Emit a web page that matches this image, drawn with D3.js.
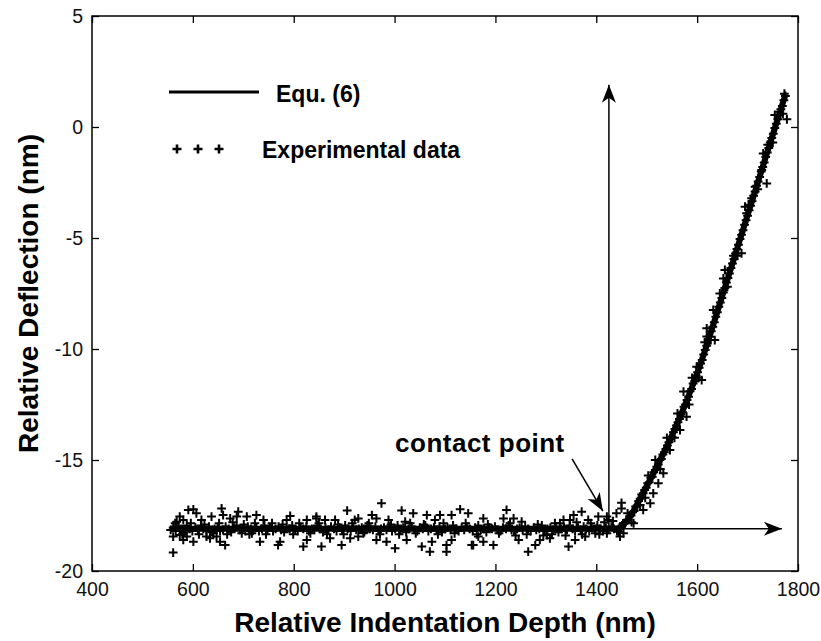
<!DOCTYPE html>
<html>
<head>
<meta charset="utf-8">
<script src="https://cdn.jsdelivr.net/npm/d3@7"></script>
<style>
    body { margin: 0; background: #fff; }
    svg { font-family: Arial, "Liberation Sans", Helvetica, sans-serif; }
</style>
</head>
<body>
<div id="chart"></div>
<script>
// ---- data ----
const xTicks = [400, 600, 800, 1000, 1200, 1400, 1600, 1800];
const yTicks = [-20, -15, -10, -5, 0, 5];

// Equ. (6) fitted curve
const fitCurve = [
    [555, -18.1], [1445, -18.1], [1460, -17.75], [1475, -17.25], [1490, -16.6],
    [1510, -15.75], [1530, -14.85], [1550, -13.9], [1570, -12.85], [1590, -11.7],
    [1610, -10.45], [1630, -9.05], [1650, -7.6], [1670, -6.15], [1690, -4.7],
    [1710, -3.25], [1730, -1.8], [1750, -0.35], [1775, 1.45]
];

// experimental points sitting on the flat baseline
const baselinePoints = [
    [556, -18.15], [561, -18.05], [566, -18.2], [572, -18.0], [577, -18.1], [583, -18.25], [588, -17.95], [594, -18.1],
    [599, -18.2], [605, -18.05], [610, -18.15], [616, -17.95], [621, -18.1], [627, -18.2], [632, -18.0], [638, -18.25],
    [643, -18.1], [649, -18.05], [654, -18.2], [660, -18.15], [665, -18.0], [671, -18.1], [676, -18.25], [682, -18.05],
    [687, -17.95], [693, -18.15], [698, -18.1], [704, -18.2], [709, -18.0], [715, -18.1], [720, -18.15], [726, -18.05],
    [731, -18.2], [737, -18.1], [742, -17.95], [748, -18.15], [753, -18.05], [759, -18.2], [764, -18.1], [770, -18.0],
    [775, -18.15], [781, -18.25], [786, -18.05], [792, -18.1], [797, -17.95], [803, -18.15], [808, -18.2], [814, -18.05],
    [819, -18.1], [825, -18.0], [830, -18.2], [836, -18.1], [841, -18.15], [847, -17.95], [852, -18.1], [858, -18.25],
    [863, -18.05], [869, -18.15], [874, -18.0], [880, -18.1], [885, -18.2], [891, -18.05], [896, -18.15], [902, -17.95],
    [907, -18.1], [913, -18.2], [918, -18.0], [924, -18.15], [929, -18.1], [935, -18.05], [940, -18.25], [946, -17.95],
    [951, -18.1], [957, -18.15], [962, -18.0], [968, -18.2], [973, -18.1], [979, -18.05], [984, -18.15], [990, -18.0],
    [995, -18.2], [1001, -18.1], [1006, -17.95], [1012, -18.15], [1017, -18.05], [1023, -18.25], [1028, -18.1], [1034, -18.0],
    [1039, -18.15], [1045, -18.2], [1050, -18.05], [1056, -18.1], [1061, -17.95], [1067, -18.2], [1072, -18.1], [1078, -18.05],
    [1083, -18.15], [1089, -18.0], [1094, -18.25], [1100, -18.1], [1105, -18.05], [1111, -18.15], [1116, -17.95], [1122, -18.1],
    [1127, -18.2], [1133, -18.05], [1138, -18.15], [1144, -18.0], [1149, -18.1], [1155, -18.2], [1160, -18.05], [1166, -17.95],
    [1171, -18.15], [1177, -18.1], [1182, -18.25], [1188, -18.05], [1193, -18.1], [1199, -18.0], [1204, -18.15], [1210, -18.2],
    [1215, -18.05], [1221, -18.1], [1226, -17.95], [1232, -18.15], [1237, -18.2], [1243, -18.1], [1248, -18.05], [1254, -18.15],
    [1259, -18.0], [1265, -18.1], [1270, -18.2], [1276, -18.05], [1281, -18.15], [1287, -18.1], [1292, -17.95], [1298, -18.2],
    [1303, -18.1], [1309, -18.05], [1314, -18.15], [1320, -18.0], [1325, -18.25], [1331, -18.1], [1336, -18.05], [1342, -18.15],
    [1347, -17.95], [1353, -18.1], [1358, -18.2], [1364, -18.05], [1369, -18.15], [1375, -18.0], [1380, -18.1], [1386, -18.2],
    [1391, -18.05], [1397, -18.15], [1402, -17.95], [1408, -18.1], [1413, -18.2], [1419, -18.05], [1424, -18.15], [1430, -18.0],
    [1435, -18.1], [1441, -18.2], [1446, -18.05]
];

// experimental points on the loading part
const loadingPoints = [
    [1448, -18.0], [1451, -17.95], [1454, -17.85], [1457, -17.85], [1460, -17.7], [1463, -17.7], [1466, -17.55], [1469, -17.5],
    [1472, -17.35], [1475, -17.3], [1478, -17.1], [1481, -17.05], [1484, -16.85], [1487, -16.75], [1490, -16.55], [1493, -16.5],
    [1496, -16.35], [1499, -16.25], [1502, -16.05], [1505, -16.0], [1508, -15.8], [1511, -15.75], [1514, -15.55], [1517, -15.45],
    [1520, -15.3], [1523, -15.2], [1526, -15.0], [1529, -14.95], [1532, -14.75], [1535, -14.65], [1538, -14.5], [1541, -14.35],
    [1544, -14.2], [1547, -14.05], [1550, -13.95], [1553, -13.75], [1556, -13.6], [1559, -13.45], [1562, -13.3], [1565, -13.15],
    [1568, -12.95], [1571, -12.85], [1574, -12.6], [1577, -12.5], [1580, -12.3], [1583, -12.15], [1586, -11.9], [1589, -11.8],
    [1592, -11.55], [1595, -11.45], [1598, -11.2], [1601, -11.05], [1604, -10.85], [1607, -10.65], [1610, -10.5], [1613, -10.25],
    [1616, -10.05], [1619, -9.85], [1622, -9.6], [1625, -9.45], [1628, -9.2], [1631, -9.0], [1634, -8.8], [1637, -8.55],
    [1640, -8.35], [1643, -8.1], [1646, -7.9], [1649, -7.7], [1652, -7.45], [1655, -7.25], [1658, -7.0], [1661, -6.8],
    [1664, -6.6], [1667, -6.35], [1670, -6.15], [1673, -5.95], [1676, -5.7], [1679, -5.5], [1682, -5.3], [1685, -5.05],
    [1688, -4.85], [1691, -4.65], [1694, -4.4], [1697, -4.2], [1700, -4.0], [1703, -3.75], [1706, -3.55], [1709, -3.35],
    [1712, -3.1], [1715, -2.9], [1718, -2.65], [1721, -2.45], [1724, -2.25], [1727, -2.0], [1730, -1.8], [1733, -1.6],
    [1736, -1.35], [1739, -1.15], [1742, -0.95], [1745, -0.7], [1748, -0.5], [1751, -0.3], [1754, -0.05], [1757, 0.15],
    [1760, 0.35], [1763, 0.55], [1766, 0.8], [1769, 0.95], [1772, 1.2], [1775, 1.4]
];

// scattered experimental points (noise around the curve)
const scatterPoints = [
    [591, -17.25], [601, -17.22], [607, -17.4], [574, -17.55], [581, -17.7], [568, -17.78], [637, -17.55], [657, -17.18],
    [660, -17.48], [690, -17.33], [687, -17.55], [707, -17.55], [726, -17.48], [740, -17.7], [793, -17.52], [786, -17.7],
    [826, -17.7], [845, -17.55], [617, -17.7], [674, -17.63],
    [561, -19.17], [581, -18.6], [588, -18.45], [601, -18.68], [574, -18.38], [627, -18.45], [634, -18.53], [647, -18.45],
    [654, -18.68], [664, -18.83], [697, -18.3], [717, -18.3], [733, -18.68], [773, -18.68], [769, -18.83], [819, -18.9],
    [826, -18.6], [561, -18.45],
    [974, -16.95], [906, -17.28], [1014, -17.28], [1037, -17.4], [1064, -17.48], [1090, -17.48], [1130, -17.22], [1146, -17.4],
    [955, -17.48], [964, -17.63], [862, -17.7], [882, -17.7], [921, -17.7], [928, -17.63], [988, -17.7], [1021, -17.78],
    [1113, -17.48], [1080, -17.7], [845, -17.63],
    [855, -18.9], [895, -18.83], [912, -18.53], [964, -18.6], [1001, -18.98], [984, -18.68], [1024, -18.6], [1054, -18.9],
    [1070, -19.13], [1103, -19.13], [1103, -18.83], [1113, -18.6], [872, -18.53], [928, -18.45], [1074, -18.68], [1153, -18.83],
    [1222, -17.25], [1176, -17.63], [1216, -17.63], [1236, -17.63], [1252, -17.78], [1335, -17.7], [1355, -17.48], [1371, -17.33],
    [1384, -17.7], [1404, -17.55], [1421, -17.55], [1450, -16.93], [1440, -17.4], [1348, -17.7], [1318, -17.85],
    [1156, -18.83], [1176, -18.68], [1196, -18.83], [1246, -18.6], [1265, -19.13], [1279, -18.83], [1288, -18.6], [1308, -18.53],
    [1345, -18.9], [1358, -18.6], [1378, -18.45], [1398, -18.3], [1421, -18.3], [1444, -18.23], [1302, -18.38], [1166, -18.45],
    [1450, -17.18], [1447, -18.45], [1474, -17.85], [1493, -17.25], [1507, -16.95], [1523, -16.05], [1533, -15.6], [1513, -16.5],
    [1517, -15.0], [1546, -14.55], [1573, -11.92], [1579, -13.05], [1599, -10.8], [1609, -11.4], [1619, -9.44], [1635, -9.6],
    [1566, -13.65], [1487, -17.03], [1424, -17.7], [1454, -18.3],
    [1632, -8.24], [1619, -9.07], [1655, -6.44], [1652, -6.82], [1695, -3.59], [1698, -3.89], [1715, -2.69], [1728, -1.94],
    [1738, -2.54], [1731, -1.19], [1754, 0.54], [1778, 0.35], [1764, 0.69], [1688, -5.69], [1708, -3.21],
    // near-band fuzz
    [565, -17.85], [579, -18.35], [596, -17.85], [612, -18.35], [623, -17.9], [641, -18.3], [652, -17.85], [668, -18.35],
    [679, -17.8], [701, -17.9], [712, -18.35], [723, -17.85], [745, -18.35], [757, -17.85], [778, -17.9], [799, -18.35],
    [811, -17.85], [833, -18.3], [850, -17.85], [866, -18.35], [888, -17.9], [899, -18.35], [916, -17.85], [938, -18.3],
    [949, -17.85], [971, -18.35], [993, -17.9], [1009, -18.35], [1031, -17.85], [1042, -18.3], [1058, -17.9], [1086, -18.35],
    [1097, -17.85], [1119, -18.3], [1141, -17.85], [1163, -18.35], [1185, -17.9], [1207, -18.3], [1229, -17.85], [1240, -18.4],
    [1262, -18.35], [1284, -17.9], [1295, -18.4], [1312, -18.35], [1328, -17.85], [1339, -18.4], [1361, -17.8], [1372, -18.35],
    [1389, -17.85], [1406, -18.35], [1416, -17.8], [1433, -17.75],
    [1462, -17.4], [1470, -17.8], [1497, -16.7], [1503, -15.7], [1527, -15.4], [1540, -14.0], [1555, -14.0], [1561, -12.9],
    [1584, -12.5], [1590, -11.3], [1603, -11.3], [1615, -9.7], [1627, -9.6], [1645, -7.5], [1660, -7.2], [1672, -5.8],
    [1680, -5.8], [1702, -3.5], [1720, -2.8], [1740, -0.8], [1750, -0.7], [1770, 0.6], [1773, 1.5]
];

// annotation arrows (data units)
const arrows = [
    { from: [1425, -18.1], to: [1425, 1.9] },
    { from: [1425, -18.1], to: [1768, -18.1] },
    { from: [1352, -14.95], to: [1413, -17.3] }
];
const contactLabel = { x: 1001, y: -14.64, text: "contact point" };

// ---- layout ----
const margin = { top: 16, right: 23, bottom: 70, left: 92 };
const width = 821 - margin.left - margin.right;
const height = 641 - margin.top - margin.bottom;

const svg = d3.select("#chart")
    .append("svg")
    .attr("width", 821)
    .attr("height", 641);

const g = svg.append("g")
    .attr("transform", `translate(${margin.left},${margin.top})`);

const x = d3.scaleLinear().domain([400, 1800]).range([0, width]);
const y = d3.scaleLinear().domain([-20, 5]).range([height, 0]);

// axes, ticks pointing inwards, plain hyphen minus like the original
const tickLen = 7;
const fmt = d => String(d);
const xAxis = g.append("g")
    .attr("transform", `translate(0,${height})`)
    .call(d3.axisBottom(x).tickValues(xTicks).tickFormat(fmt).tickSizeInner(-tickLen).tickSizeOuter(0).tickPadding(11));
const yAxis = g.append("g")
    .call(d3.axisLeft(y).tickValues(yTicks).tickFormat(fmt).tickSizeInner(-tickLen).tickSizeOuter(0).tickPadding(9));
g.append("g")
    .call(d3.axisTop(x).tickValues(xTicks).tickSizeInner(-tickLen).tickSizeOuter(0).tickFormat(""));
g.append("g")
    .attr("transform", `translate(${width},0)`)
    .call(d3.axisRight(y).tickValues(yTicks).tickSizeInner(-tickLen).tickSizeOuter(0).tickFormat(""));

g.selectAll(".domain").remove();
g.selectAll(".tick line").attr("stroke", "#000").attr("stroke-width", 1.3);
[xAxis, yAxis].forEach(a => a.selectAll("text")
    .style("font-size", "19.5px")
    .style("font-family", "Arial, 'Liberation Sans', sans-serif")
    .attr("fill", "#111"));

// frame
g.append("rect")
    .attr("width", width)
    .attr("height", height)
    .attr("fill", "none")
    .attr("stroke", "#000")
    .attr("stroke-width", 1.5);

// plus markers
const plus = s => `M${-s},0H${s}M0,${-s}V${s}`;
const allPoints = baselinePoints.concat(loadingPoints, scatterPoints);

g.append("g")
    .selectAll("path")
    .data(allPoints)
    .enter()
    .append("path")
    .attr("d", plus(4.4))
    .attr("transform", d => `translate(${x(d[0])},${y(d[1])})`)
    .attr("stroke", "#000")
    .attr("stroke-width", 2)
    .attr("fill", "none");

// fitted line (looks fat in the original because of the overlapping markers)
const line = d3.line()
    .x(d => x(d[0]))
    .y(d => y(d[1]))
    .curve(d3.curveMonotoneX);

g.append("path")
    .datum(fitCurve)
    .attr("d", line)
    .attr("fill", "none")
    .attr("stroke", "#000")
    .attr("stroke-width", 6);

// arrows with notched heads
function arrowHead(x1, y1, x2, y2) {
    const ang = Math.atan2(y2 - y1, x2 - x1) * 180 / Math.PI;
    g.append("path")
        .attr("d", "M0,0L-18,-7L-13,0L-18,7Z")
        .attr("transform", `translate(${x2},${y2}) rotate(${ang})`)
        .attr("fill", "#000");
}

arrows.forEach(a => {
    const x1 = x(a.from[0]), y1 = y(a.from[1]);
    const x2 = x(a.to[0]), y2 = y(a.to[1]);
    g.append("line")
        .attr("x1", x1).attr("y1", y1)
        .attr("x2", x2).attr("y2", y2)
        .attr("stroke", "#000")
        .attr("stroke-width", 1.5);
    arrowHead(x1, y1, x2, y2);
});

g.append("text")
    .attr("x", x(contactLabel.x))
    .attr("y", y(contactLabel.y))
    .style("font-size", "26px")
    .style("font-weight", "bold")
    .style("letter-spacing", "0.5px")
    .text(contactLabel.text);

// legend
const legend = svg.append("g");
legend.append("line")
    .attr("x1", 169).attr("x2", 259)
    .attr("y1", 92).attr("y2", 92)
    .attr("stroke", "#000")
    .attr("stroke-width", 3);
legend.append("text")
    .attr("x", 276).attr("y", 102)
    .style("font-size", "23px")
    .style("font-weight", "bold")
    .text("Equ. (6)");
legend.selectAll("path.mk")
    .data([177, 198, 219])
    .enter()
    .append("path")
    .attr("class", "mk")
    .attr("d", plus(4.5))
    .attr("transform", d => `translate(${d},149)`)
    .attr("stroke", "#000")
    .attr("stroke-width", 2.6);
legend.append("text")
    .attr("x", 262).attr("y", 158)
    .style("font-size", "23px")
    .style("font-weight", "bold")
    .text("Experimental data");

// axis titles
svg.append("text")
    .attr("x", margin.left + width / 2)
    .attr("y", 632)
    .attr("text-anchor", "middle")
    .style("font-size", "28px")
    .style("font-weight", "bold")
    .text("Relative Indentation Depth (nm)");

svg.append("text")
    .attr("transform", `translate(38,${margin.top + height / 2}) rotate(-90)`)
    .attr("text-anchor", "middle")
    .style("font-size", "28px")
    .style("font-weight", "bold")
    .text("Relative Deflection (nm)");
</script>
</body>
</html>
